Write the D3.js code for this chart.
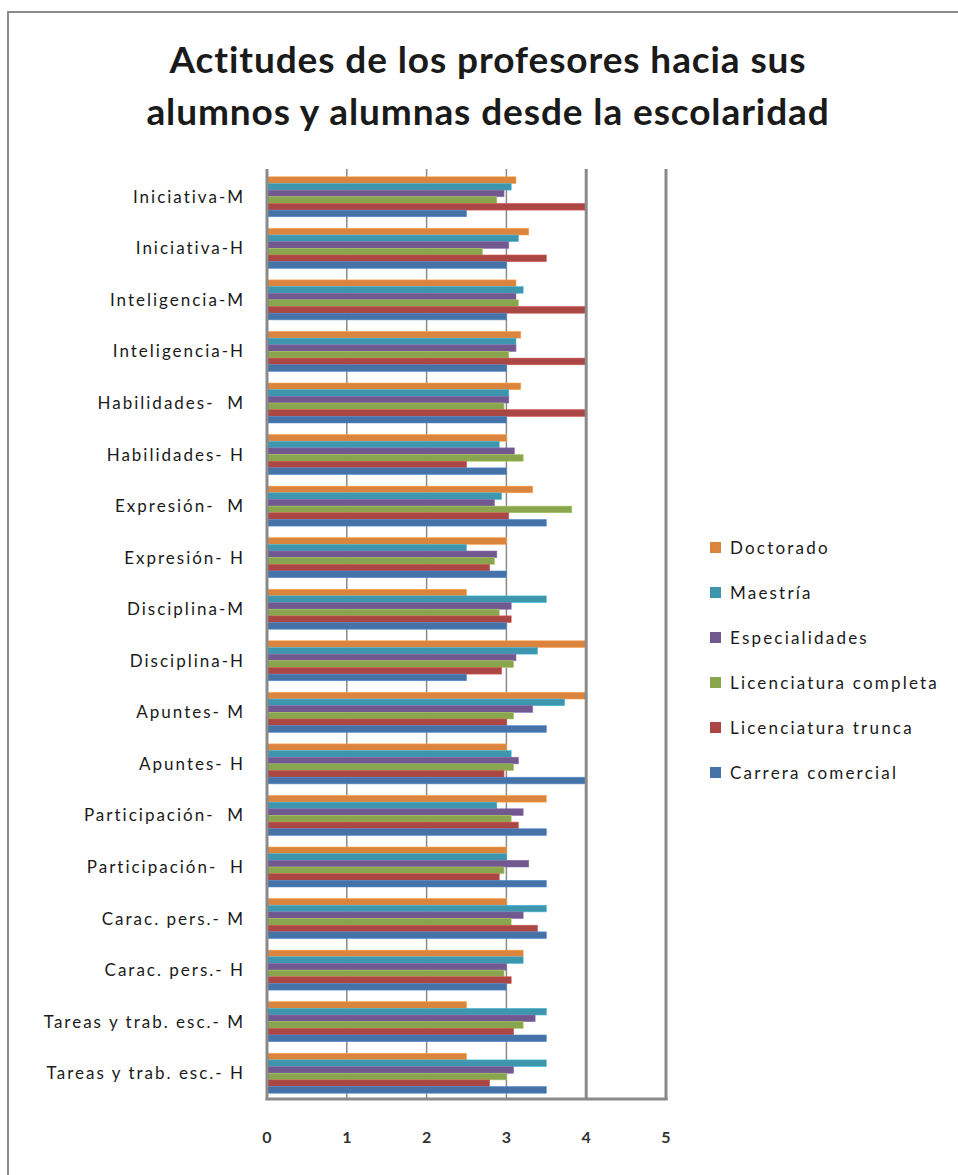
<!DOCTYPE html>
<html>
<head>
<meta charset="utf-8">
<script src="https://cdn.jsdelivr.net/npm/d3@7"></script>
<style>
  html, body { margin: 0; padding: 0; background: #fff; }
  svg { display: block; }
  text { font-family: Lato, "Open Sans", sans-serif; fill: #1a1a1a; }
</style>
</head>
<body>
<svg id="chart" width="958" height="1175"></svg>
<script>
// Categories, top to bottom
const categories = [
  "Iniciativa-M", "Iniciativa-H", "Inteligencia-M", "Inteligencia-H",
  "Habilidades-  M", "Habilidades- H", "Expresión-  M", "Expresión- H",
  "Disciplina-M", "Disciplina-H", "Apuntes- M", "Apuntes- H",
  "Participación-  M", "Participación-  H", "Carac. pers.- M", "Carac. pers.- H",
  "Tareas y trab. esc.- M", "Tareas y trab. esc.- H"
];

// Series, in the order they are stacked inside each group (top to bottom)
const seriesNames = ["Doctorado", "Maestría", "Especialidades",
  "Licenciatura completa", "Licenciatura trunca", "Carrera comercial"];
const seriesColors = ["#DB843D", "#3D96AE", "#71588F", "#89A54E", "#AA4643", "#4572A7"];

const doctorado = [3.12, 3.28, 3.12, 3.18, 3.18, 3.0, 3.33, 3.0, 2.5, 4.0, 4.0, 3.0, 3.5, 3.0, 3.0, 3.21, 2.5, 2.5];
const maestria = [3.06, 3.15, 3.21, 3.12, 3.03, 2.91, 2.94, 2.5, 3.5, 3.39, 3.73, 3.06, 2.88, 3.0, 3.5, 3.21, 3.5, 3.5];
const especialidades = [2.97, 3.03, 3.12, 3.12, 3.03, 3.1, 2.85, 2.88, 3.06, 3.12, 3.33, 3.15, 3.21, 3.28, 3.21, 3.0, 3.36, 3.09];
const licCompleta = [2.88, 2.7, 3.15, 3.03, 2.97, 3.21, 3.82, 2.85, 2.91, 3.09, 3.09, 3.09, 3.06, 2.97, 3.06, 2.97, 3.21, 3.0];
const licTrunca = [4.0, 3.5, 4.0, 4.0, 4.0, 2.5, 3.03, 2.79, 3.06, 2.94, 3.0, 2.97, 3.15, 2.91, 3.39, 3.06, 3.09, 2.79];
const carreraComercial = [2.5, 3.0, 3.0, 3.0, 3.0, 3.0, 3.5, 3.0, 3.0, 2.5, 3.5, 4.0, 3.5, 3.5, 3.5, 3.0, 3.5, 3.5];

const xTicks = [0, 1, 2, 3, 4, 5];
const titleLines = ["Actitudes de los profesores hacia sus", "alumnos y alumnas desde la escolaridad"];

const seriesValues = [doctorado, maestria, especialidades, licCompleta, licTrunca, carreraComercial];
const rows = categories.map((c, i) => ({
  category: c,
  values: seriesNames.map((s, j) => ({ series: s, value: seriesValues[j][i], color: seriesColors[j] }))
}));

const svg = d3.select("#chart");

// Outer chart frame (top and left edges visible)
svg.append("path")
  .attr("d", "M8,1175 L8,12 L958,12")
  .attr("fill", "none").attr("stroke", "#8c8c8c").attr("stroke-width", 2);

// Title
const title = svg.append("g");
titleLines.forEach((t, i) => {
  title.append("text")
    .attr("x", 488).attr("y", 73 + i * 52)
    .attr("text-anchor", "middle")
    .style("font-size", "37px").style("font-weight", "bold")
    .style("letter-spacing", "0.9px")
    .text(t);
});

// Scales
const x = d3.scaleLinear().domain([0, 5]).range([267, 666]);
const y = d3.scaleBand().domain(categories).range([171, 1099]).paddingInner(0.225).paddingOuter(0.1125);
const ySub = d3.scaleBand().domain(seriesNames).range([0, y.bandwidth()]);

const plot = svg.append("g");

// Thin gridlines
plot.append("g").selectAll("line")
  .data(xTicks.filter(d => d > 0 && d < 4))
  .join("line")
  .attr("x1", d => x(d)).attr("x2", d => x(d))
  .attr("y1", 169).attr("y2", 1099)
  .attr("stroke", "#8a8a8a").attr("stroke-width", 1.5);

// Bars
const groups = plot.append("g").selectAll("g")
  .data(rows).join("g")
  .attr("transform", d => `translate(0,${y(d.category)})`);

groups.selectAll("rect")
  .data(d => d.values).join("rect")
  .attr("x", x(0))
  .attr("y", d => ySub(d.series))
  .attr("width", d => x(d.value) - x(0))
  .attr("height", ySub.bandwidth())
  .attr("fill", d => d.color)
  .attr("stroke", d => d3.color(d.color).brighter(0.6))
  .attr("stroke-width", 0.6);

// Heavy lines: axis at 0, gridline at 4, right and bottom frame of the plot
plot.append("g").selectAll("line")
  .data(xTicks.filter(d => d === 0 || d >= 4))
  .join("line")
  .attr("x1", d => x(d)).attr("x2", d => x(d))
  .attr("y1", 169).attr("y2", 1100)
  .attr("stroke", "#8a8a8a").attr("stroke-width", 3);
plot.append("line")
  .attr("x1", x(0) - 1.5).attr("x2", x(5) + 1.5)
  .attr("y1", 1099).attr("y2", 1099)
  .attr("stroke", "#8a8a8a").attr("stroke-width", 3);

// X tick labels
svg.append("g").selectAll("text")
  .data(xTicks).join("text")
  .attr("x", d => x(d)).attr("y", 1143)
  .attr("text-anchor", "middle")
  .style("font-size", "16px").style("font-weight", "bold").style("fill", "#333")
  .text(d => d);

// Category labels
svg.append("g").selectAll("text")
  .data(categories).join("text")
  .attr("x", 245)
  .attr("y", d => y(d) + y.bandwidth() / 2)
  .attr("dy", "0.35em")
  .attr("text-anchor", "end")
  .style("font-size", "17px")
  .style("letter-spacing", "2px")
  .attr("xml:space", "preserve")
  .text(d => d);

// Legend
const legend = svg.append("g").selectAll("g")
  .data(seriesNames).join("g")
  .attr("transform", (d, i) => `translate(710,${548 + i * 45})`);
legend.append("rect")
  .attr("x", 0).attr("y", -6).attr("width", 11).attr("height", 11)
  .attr("fill", (d, i) => seriesColors[i]);
legend.append("text")
  .attr("x", 20).attr("y", 0).attr("dy", "0.35em")
  .style("font-size", "17px")
  .style("letter-spacing", "2.2px")
  .text(d => d);
</script>
</body>
</html>
